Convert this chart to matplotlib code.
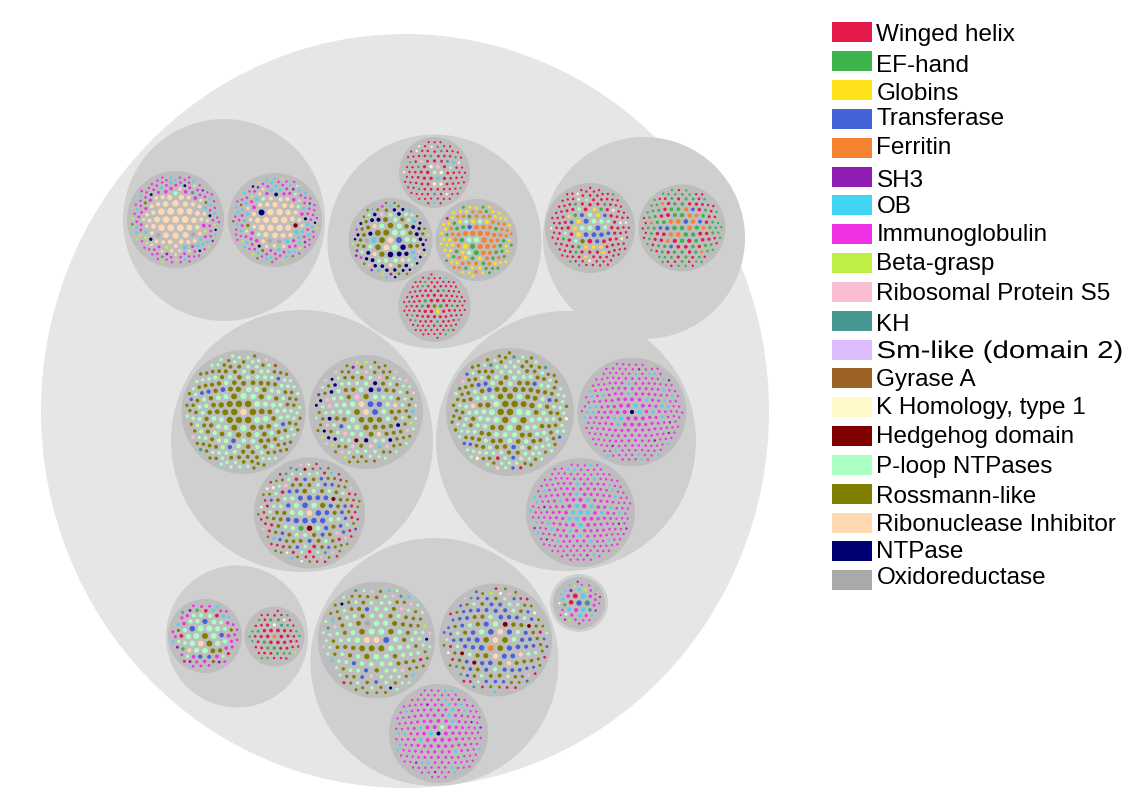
import numpy as np
import matplotlib
matplotlib.use("Agg")
import matplotlib.pyplot as plt
from matplotlib.collections import PatchCollection
from matplotlib.patches import Circle, Ellipse, Rectangle
from matplotlib.patheffects import AbstractPathEffect
from matplotlib.transforms import Affine2D

# ---- data -----------------------------------------------------------------
category_codes = ["WH","EF","GL","TR","FE","SH","OB","IG","BG","RS",
                  "KH","SM","GY","KO","HH","PL","RO","RI","NT","OX"]
category_labels = ["Winged helix","EF-hand","Globins","Transferase","Ferritin","SH3","OB",
                   "Immunoglobulin","Beta-grasp","Ribosomal Protein S5","KH","Sm-like (domain 2)",
                   "Gyrase A","K Homology, type 1","Hedgehog domain","P-loop NTPases",
                   "Rossmann-like","Ribonuclease Inhibitor","NTPase","Oxidoreductase"]
category_colors = ["#e6194b","#3cb44b","#ffe119","#4363d8","#f58231","#911eb4","#42d4f4",
                   "#f032e6","#bfef45","#fabed4","#469990","#dcbeff","#9a6324","#fffac8",
                   "#800000","#aaffc3","#808000","#ffd8b1","#000075","#a9a9a9"]

# per leaf: dot counts by category, from the centre of the leaf to its rim
a1 = [dict(RI=8), dict(RI=34,OX=2,PL=1), dict(RI=14,IG=18,OB=6,NT=4,BG=3,RO=2,KH=1), dict(IG=55,OB=15,BG=8,SH=3,RO=1,NT=2,PL=1,KH=1)]
a2 = [dict(RI=6), dict(RI=22,OX=2,HH=1,NT=1,PL=2), dict(RI=10,IG=14,OB=12,NT=3,RO=2,RS=1,PL=2), dict(IG=50,OB=25,BG=8,SH=4,GY=2,RO=2,NT=2,PL=1)]
b1 = [dict(PL=1,KO=2,RS=1), dict(WH=20,KO=2,EF=2,PL=1,OB=1,RS=1,KH=1), dict(WH=60,KO=6,OB=2,KH=4,EF=3)]
b2 = [dict(RI=2,RO=3,TR=1,PL=2), dict(RO=10,PL=12,NT=10,RI=4,OB=2,OX=1), dict(NT=16,RO=10,PL=6,OB=3,RS=3), dict(NT=8,RO=10,IG=3,SH=5,BG=4,OB=4)]
b3 = [dict(PL=1,FE=2), dict(FE=20,EF=9,PL=4,GL=6,TR=1), dict(FE=20,EF=12,GL=12), dict(GL=28,EF=8,FE=4,WH=1)]
b4 = [dict(RO=1,WH=2,GL=1,EF=1), dict(WH=25,EF=5), dict(WH=80,EF=6,KH=1,OB=1)]
c1 = [dict(PL=3,TR=2), dict(TR=8,PL=6,GL=8,WH=5,EF=2,RO=1), dict(WH=30,EF=5,GL=3,PL=2,KO=3), dict(WH=70,KO=5,EF=2,KH=1)]
c2 = [dict(EF=3,FE=3,TR=1), dict(EF=10,WH=8,FE=8,TR=5), dict(WH=20,EF=20,FE=3), dict(EF=40,WH=25)]
d1 = [dict(RI=1,RO=6), dict(RO=20,PL=20,TR=2), dict(RO=40,PL=40,TR=4), dict(RO=50,PL=45,TR=2,RS=2,GY=1,KH=1)]
d2 = [dict(RI=2,RO=3,TR=2), dict(PL=20,RO=15,TR=3,NT=3,HH=1,RS=2,RI=2), dict(PL=25,RO=25,RS=8,NT=6,OB=1), dict(RO=25,PL=15,RS=8,NT=5,BG=6,SH=2,GY=2,OB=1)]
d3 = [dict(RI=1,TR=5,PL=2,HH=1), dict(TR=14,PL=12,RO=10,HH=1,EF=1), dict(RO=25,PL=18,TR=14,WH=6,RS=2), dict(WH=30,RO=20,RS=6,KO=6,KH=5,OB=3,HH=1,GY=2,SH=1)]
e1 = [dict(RO=4,PL=1), dict(RO=20,PL=22,TR=1), dict(RO=40,PL=42,TR=6,RI=1), dict(RO=48,PL=40,TR=5,WH=2,KH=3,KO=2,RI=2,RS=1)]
e2 = [dict(NT=1,IG=3,OB=2), dict(IG=30,OB=6), dict(IG=170,OB=25,SH=6)]
e3 = [dict(OB=6,IG=2), dict(IG=25,OB=8), dict(IG=170,OB=22,SH=6)]
f1 = [dict(RO=2,RI=1,PL=4), dict(PL=16,TR=5,RO=2,RI=1), dict(PL=4,IG=10,OB=3,EF=2,WH=3,RO=2,GY=1), dict(IG=18,SH=4,OB=3,WH=2,EF=1)]
f2 = [dict(FE=1,WH=3), dict(WH=12,EF=5,KH=1,KO=1), dict(WH=25,EF=14,KO=1,BG=1)]
g1 = [dict(RI=2,RO=3,TR=1,PL=2), dict(PL=24,RO=16,TR=3,OX=1), dict(PL=28,RO=24,RS=4,TR=2), dict(RO=24,PL=20,OB=5,RS=5,NT=3,BG=1,WH=2,KH=3)]
g2 = [dict(RI=2,FE=1,RO=2), dict(TR=20,PL=8,RO=8,RI=3,HH=2), dict(TR=30,RO=20,PL=12,HH=2), dict(RO=20,TR=12,WH=14,KO=3,KH=3,PL=3,RS=2,EF=1,OB=1,BG=1,SM=1)]
g3 = [dict(NT=1,PL=1,IG=3), dict(IG=30,OB=5), dict(IG=120,OB=18,SH=6)]
h1 = [dict(TR=1,KH=1), dict(OB=5,WH=2,IG=3,KH=1), dict(IG=14,OB=6,BG=3,SH=3,WH=3,KO=2,EF=1)]

# ---- layout (pixels) ------------------------------------------------------
FIG_W, FIG_H = 1131, 789
ROOT = (405, 411, 364, 377)
GROUPS = [(224,220,101),(434.5,241.5,107),(644,238,101),(302,441,131),
          (566,441,130),(237,636.5,71),(434.5,662,124),(579,603,29)]
# leaf: counts, (cx, cy, R), dot radius per band
LEAVES = [
 (a1,(175.5,219.5,48.5),[3.5,2.2,1.5,1.2]), (a2,(275,220,47),[3.3,2.2,1.6,1.2]),
 (b1,(434.5,172.5,35.5),[1.8,1.4,1.1]), (b2,(390.5,240,42),[3.0,2.1,1.7,1.25]),
 (b3,(476.5,240,41),[2.7,2.0,1.75,1.5]), (b4,(434.5,306,36),[1.8,1.4,1.1]),
 (c1,(590,228,45),[2.5,1.9,1.5,1.2]), (c2,(682,228,43.5),[2.3,1.9,1.6,1.2]),
 (d1,(243.5,412,62),[3.3,2.5,2.1,1.7]), (d2,(366,412,57),[2.9,2.2,1.85,1.5]),
 (d3,(309.5,513,55.5),[2.8,2.1,1.75,1.3]), (e1,(510,412,64),[3.3,2.5,2.1,1.7]),
 (e2,(632,412,54.5),[2.1,1.6,1.2]), (e3,(580.5,512.5,54.5),[2.1,1.6,1.2]),
 (f1,(205,636,37),[3.0,2.2,1.7,1.4]), (f2,(274.5,636.5,30),[1.9,1.6,1.2]),
 (g1,(376.5,640,58.5),[3.0,2.2,1.85,1.5]), (g2,(495.5,640,56.5),[2.9,2.2,1.85,1.4]),
 (g3,(438.5,733.5,49.5),[2.0,1.6,1.2]), (h1,(579,603,26),[2.7,1.8,1.1]),
]
LEGEND_BOX_Y = [22,51,80,109,138,167,195,224,253,282,311,340,368,397,426,455,484,513,541,570]
LEGEND_BASE_Y = [41,72,100,125,154,187,213,241,270,300,331,358,386,414,443,473,503,531,558,584]
LEAF_MARGIN = 3.0


def pack(radii, gap):
    """Greedy front packing, largest dots first, closest to the centre."""
    r = np.asarray(radii) + gap / 2
    n = len(r)
    x, y = np.zeros(n), np.zeros(n)
    if n > 1:
        x[1] = r[0] + r[1]
    for i in range(2, n):
        far = np.hypot(x[:i], y[:i]) + r[:i]
        idx = np.argsort(-far)[:90]
        xa, ya, ra = x[idx], y[idx], r[idx] + r[i]
        ia, ib = np.triu_indices(len(idx), 1)
        dx, dy = xa[ib] - xa[ia], ya[ib] - ya[ia]
        d = np.hypot(dx, dy)
        ok = (d < ra[ia] + ra[ib]) & (d > np.abs(ra[ia] - ra[ib])) & (d > 0)
        ia, ib, dx, dy, d = ia[ok], ib[ok], dx[ok], dy[ok], d[ok]
        a = (d**2 + ra[ia]**2 - ra[ib]**2) / (2 * d)
        h = np.sqrt(np.maximum(ra[ia]**2 - a**2, 0))
        mx, my = xa[ia] + a * dx / d, ya[ia] + a * dy / d
        cx = np.r_[mx - h * dy / d, mx + h * dy / d]
        cy = np.r_[my + h * dx / d, my - h * dx / d]
        order = np.argsort(np.hypot(cx, cy))
        cx, cy = cx[order], cy[order]
        for k in range(0, len(cx), 40):
            px, py = cx[k:k+40, None], cy[k:k+40, None]
            dist = np.hypot(px - x[:i], py - y[:i])
            free = np.all(dist >= r[:i] + r[i] - 1e-6, axis=1)
            if free.any():
                j = np.argmax(free)
                x[i], y[i] = px[j, 0], py[j, 0]
                break
    return x, y


def fit_pack(radii, target):
    """Tune the gap between dots so that the packing fills the leaf."""
    radii = np.asarray(radii)
    gap = 2.6
    for _ in range(4):
        x, y = pack(radii, gap)
        extent = np.max(np.hypot(x, y) + radii)
        layers = extent / (2 * radii.mean() + gap)
        gap = max(0.6, gap + (target - extent) / layers)
    x, y = pack(radii, gap)
    extent = np.max(np.hypot(x, y) + radii)
    s = target / extent
    return x * s, y * s


def leaf_dots(bands, sizes):
    """Spread each band's counts over its dots; sizes fall off smoothly."""
    cats, band_mid, start = [], [], 0
    for band in bands:
        expanded = [c for c, k in band.items() for _ in range(k)]
        m = len(expanded)
        j = np.arange(m)
        slots = np.argsort(np.modf(j * 0.7548776662 + j * j * 0.5698402910)[0])
        cats += [expanded[s] for s in slots]
        band_mid.append(start + m / 2)
        start += m
    radii = np.interp(np.arange(start), band_mid, sizes)
    return cats, radii


# ---- drawing --------------------------------------------------------------
class StretchX(AbstractPathEffect):
    def __init__(self, x0, factor):
        super().__init__()
        self.x0, self.factor = x0, factor

    def draw_path(self, renderer, gc, tpath, affine, rgbFace=None):
        stretch = Affine2D().translate(-self.x0, 0).scale(self.factor, 1).translate(self.x0, 0)
        renderer.draw_path(gc, tpath, affine + stretch, rgbFace)


plt.rcParams["font.family"] = ["Liberation Sans", "DejaVu Sans"]
fig = plt.figure(figsize=(FIG_W / 100, FIG_H / 100), dpi=100)
ax = fig.add_axes([0, 0, 1, 1])
ax.set_xlim(0, FIG_W)
ax.set_ylim(FIG_H, 0)
ax.axis("off")

ax.add_patch(Ellipse(ROOT[:2], 2 * ROOT[2], 2 * ROOT[3], fc="#e6e6e6", ec="none", zorder=1))
for cx, cy, r in GROUPS:
    ax.add_patch(Circle((cx, cy), r, fc="#cfcfcf", ec="none", zorder=2))

color_of = dict(zip(category_codes, category_colors))
patches, colors = [], []
for bands, (cx, cy, R), sizes in LEAVES:
    ax.add_patch(Circle((cx, cy), R, fc="#bdbdbd", ec="none", zorder=3))
    cats, radii = leaf_dots(bands, sizes)
    x, y = fit_pack(radii, R - LEAF_MARGIN)
    for px, py, r, c in zip(x, y, radii, cats):
        patches.append(Circle((cx + px, cy + py), r))
        colors.append(color_of[c])
ax.add_collection(PatchCollection(patches, facecolors=colors, edgecolors="none", zorder=4))

for label, color, by, ty in zip(category_labels, category_colors, LEGEND_BOX_Y, LEGEND_BASE_Y):
    ax.add_patch(Rectangle((832, by), 40, 20, fc=color, ec="none", zorder=5))
    t = ax.text(876.5, ty, label, fontsize=17.5, color="black", va="baseline", ha="left", zorder=6)
    if label.startswith("Sm-like"):
        t.set_path_effects([StretchX(876.5, 1.21)])

fig.savefig("out.png", dpi=100)
